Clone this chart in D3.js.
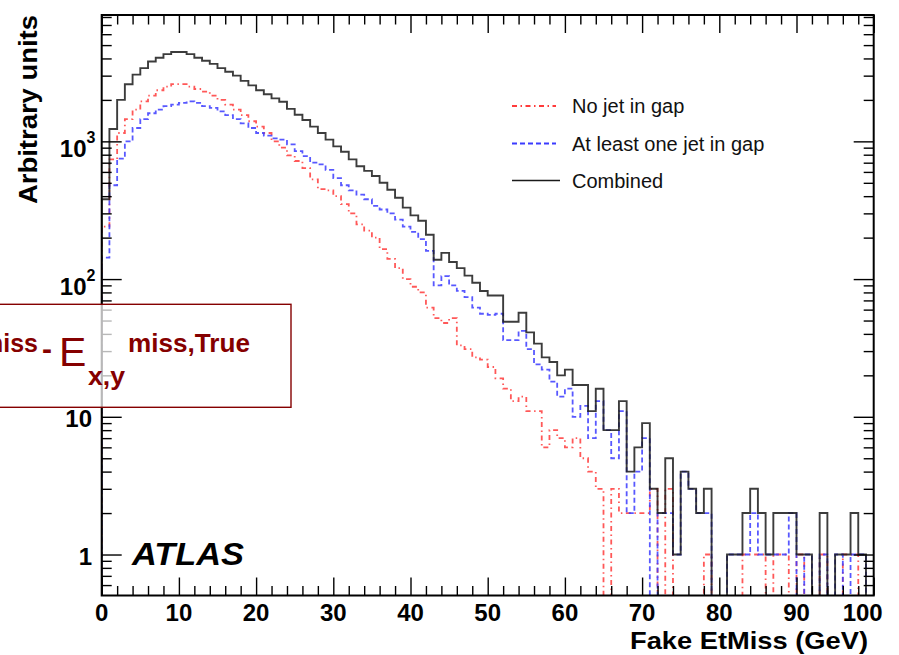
<!DOCTYPE html>
<html>
<head>
<meta charset="utf-8">
<script src="https://cdn.jsdelivr.net/npm/d3@7"></script>
<style>
  body { margin: 0; background: #fff; }
  svg { display: block; font-family: "Liberation Sans", Arial, Helvetica, sans-serif; }
</style>
</head>
<body>
<svg id="chart" width="899" height="655"></svg>
<script>
// Fake missing transverse energy, 1 GeV bins from 0 to 100 GeV
const binLow = 0;
const binHigh = 100;

const noJetInGap = [
  240, 740, 1150, 1450, 1700, 1950, 2150, 2350, 2500, 2600,
  2600, 2500, 2400, 2300, 2150, 2000, 1850, 1700, 1550, 1400,
  1280, 1150, 1000, 900, 790, 720, 640, 530, 450, 440,
  400, 350, 300, 250, 225, 200, 165, 140, 120, 100,
  88, 80, 62, 52, 48, 52, 33, 31, 27, 26,
  23, 19, 16, 13, 14, 11, 11, 6, 8, 7,
  6, 7, 5, 4, 3, 0, 3, 2, 2, 2,
  2, 3, 0, 3, 0, 0, 0, 0, 1, 0,
  0, 0, 0, 1, 1, 1, 0, 1, 1, 0,
  1, 0, 0, 1, 0, 0, 1, 1, 0, 0
];

const atLeastOneJetInGap = [
  143, 480, 750, 1000, 1250, 1450, 1600, 1700, 1800, 1850,
  1900, 1950, 1900, 1800, 1750, 1650, 1550, 1450, 1350, 1250,
  1150, 1100, 1050, 1030, 950, 850, 780, 700, 680, 620,
  540, 480, 440, 410, 380, 340, 320, 300, 270, 240,
  220, 195, 160, 90, 105, 90, 82, 74, 62, 56,
  55, 56, 36, 36, 42, 31, 24, 22, 18, 14,
  16, 10, 12, 7, 13, 8, 5, 11, 2, 4,
  7, 0, 2, 2, 1, 4, 3, 2, 2, 0,
  0, 1, 1, 1, 2, 1, 1, 1, 1, 2,
  0, 1, 0, 1, 0, 1, 0, 1, 1, 0
];

const combined = [
  380, 1230, 2000, 2600, 3050, 3400, 3800, 4050, 4300, 4450,
  4450, 4300, 4050, 3850, 3650, 3400, 3200, 3000, 2750, 2550,
  2350, 2200, 2050, 1940, 1720, 1560, 1430, 1280, 1150, 1030,
  920, 840, 740, 660, 610, 560, 500, 445, 390, 330,
  290, 265, 210, 138, 155, 133, 120, 106, 94, 82,
  76, 76, 49, 49, 57, 41, 34, 27, 25, 20,
  22, 17, 17, 11, 16, 8, 8, 13, 4, 6,
  9, 3, 2, 5, 1, 4, 3, 2, 3, 0,
  0, 1, 1, 2, 3, 2, 1, 2, 2, 2,
  1, 1, 0, 2, 0, 1, 1, 2, 1, 0
];

const seriesNames = ["No jet in gap", "At least one jet in gap", "Combined"];
const seriesColors = ["#ff3b3b", "#3b3bff", "#1a1a1a"];
const seriesDash = ["5,3.5,1.5,3.5", "5,3", null];

const xTickValues = [0, 10, 20, 30, 40, 50, 60, 70, 80, 90, 100];
const yMajorValues = [1, 10, 100, 1000];
const yTickLabels = [["1", ""], ["10", ""], ["10", "2"], ["10", "3"]];

const xTitle = "Fake EtMiss (GeV)";
const yTitle = "Arbitrary units";

// ---------------------------------------------------------------
const svg = d3.select("#chart");
const plot = { left: 101.7, right: 873.7, top: 15, bottom: 595.5 };

const x = d3.scaleLinear().domain([binLow, binHigh]).range([plot.left, plot.right]);
const y = d3.scaleLog().domain([0.504, 8270]).range([plot.bottom, plot.top]);
const yv = v => (v > 0 ? y(v) : plot.bottom + 2);

svg.append("rect").attr("width", 899).attr("height", 655).attr("fill", "#fff");

svg.append("defs").append("clipPath").attr("id", "plotClip")
  .append("rect")
  .attr("x", plot.left).attr("y", plot.top)
  .attr("width", plot.right - plot.left).attr("height", plot.bottom - plot.top);

// histogram outlines
const stepLine = d3.line()
  .x(d => x(d[0]))
  .y(d => d[1] === null ? plot.bottom + 2 : yv(d[1]))
  .curve(d3.curveStepAfter);

function outline(values) {
  const pts = [[binLow, null]];
  values.forEach((v, i) => pts.push([binLow + i, v]));
  pts.push([binHigh, values[values.length - 1]]);
  pts.push([binHigh, null]);
  return pts;
}

const hists = svg.append("g").attr("clip-path", "url(#plotClip)");
[noJetInGap, atLeastOneJetInGap, combined].forEach((vals, k) => {
  hists.append("path")
    .attr("d", stepLine(outline(vals)))
    .attr("fill", "none")
    .attr("stroke", seriesColors[k])
    .attr("stroke-width", k === 2 ? 1.9 : 1.8)
    .attr("stroke-dasharray", seriesDash[k])
    .attr("stroke-opacity", k === 2 ? 0.85 : 0.85);
});

// axes (ROOT style: ticks drawn inside the frame on all four sides)
const minorX = d3.range(0, 101, 2).filter(v => v % 10 !== 0);
const minorY = [];
[0.1, 1, 10, 100, 1000].forEach(d => {
  for (let m = 2; m <= 9; m++) {
    const v = m * d;
    if (v >= 0.504 && v <= 8270) minorY.push(v);
  }
});

const axisStyle = g => {
  g.selectAll(".domain").remove();
  g.selectAll("line").attr("stroke", "#000").attr("stroke-width", 1.4);
  g.selectAll("text").remove();
};

svg.append("g").attr("transform", `translate(0,${plot.bottom})`)
  .call(d3.axisBottom(x).tickValues(xTickValues).tickSize(-18)).call(axisStyle);
svg.append("g").attr("transform", `translate(0,${plot.bottom})`)
  .call(d3.axisBottom(x).tickValues(minorX).tickSize(-9.5)).call(axisStyle);
svg.append("g").attr("transform", `translate(0,${plot.top})`)
  .call(d3.axisTop(x).tickValues(xTickValues).tickSize(-18)).call(axisStyle);
svg.append("g").attr("transform", `translate(0,${plot.top})`)
  .call(d3.axisTop(x).tickValues(minorX).tickSize(-9.5)).call(axisStyle);

svg.append("g").attr("transform", `translate(${plot.left},0)`)
  .call(d3.axisLeft(y).tickValues(yMajorValues).tickSize(-20)).call(axisStyle);
svg.append("g").attr("transform", `translate(${plot.left},0)`)
  .call(d3.axisLeft(y).tickValues(minorY).tickSize(-10)).call(axisStyle);
svg.append("g").attr("transform", `translate(${plot.right},0)`)
  .call(d3.axisRight(y).tickValues(yMajorValues).tickSize(-20)).call(axisStyle);
svg.append("g").attr("transform", `translate(${plot.right},0)`)
  .call(d3.axisRight(y).tickValues(minorY).tickSize(-10)).call(axisStyle);

// frame
svg.append("rect")
  .attr("x", plot.left).attr("y", plot.top)
  .attr("width", plot.right - plot.left).attr("height", plot.bottom - plot.top)
  .attr("fill", "none").attr("stroke", "#000").attr("stroke-width", 2);

// x tick labels
svg.append("g").selectAll("text")
  .data(xTickValues)
  .join("text")
  .attr("x", d => d === 100 ? x(d) - 11 : x(d))
  .attr("y", 621)
  .attr("text-anchor", "middle")
  .attr("font-size", 24)
  .attr("font-weight", "bold")
  .attr("fill", "#000")
  .text(d => d);

// y tick labels (powers of ten)
const yLab = svg.append("g");
yMajorValues.forEach((v, i) => {
  const [base, exp] = yTickLabels[i];
  const ty = y(v);
  if (!exp) {
    yLab.append("text")
      .attr("x", 92).attr("y", ty + 10)
      .attr("text-anchor", "end")
      .attr("font-size", 24).attr("font-weight", "bold")
      .text(base);
  } else {
    yLab.append("text")
      .attr("x", 86.5).attr("y", ty + 16)
      .attr("text-anchor", "end")
      .attr("font-size", 24).attr("font-weight", "bold")
      .text(base);
    yLab.append("text")
      .attr("x", 86.5).attr("y", ty + 2)
      .attr("text-anchor", "start")
      .attr("font-size", 16).attr("font-weight", "bold")
      .text(exp);
  }
});

// axis titles
svg.append("text")
  .attr("x", 868).attr("y", 649)
  .attr("text-anchor", "end")
  .attr("font-size", 24).attr("font-weight", "bold")
  .attr("textLength", 238).attr("lengthAdjust", "spacingAndGlyphs")
  .text(xTitle);

svg.append("text")
  .attr("transform", "translate(37,15) rotate(-90)")
  .attr("text-anchor", "end")
  .attr("font-size", 25).attr("font-weight", "bold")
  .attr("textLength", 189).attr("lengthAdjust", "spacingAndGlyphs")
  .text(yTitle);

// legend
const legend = svg.append("g");
const legendRows = [106, 143.5, 180.5];
seriesNames.forEach((name, k) => {
  legend.append("line")
    .attr("x1", 512).attr("x2", k === 2 ? 560 : 556)
    .attr("y1", legendRows[k]).attr("y2", legendRows[k])
    .attr("stroke", seriesColors[k])
    .attr("stroke-width", k === 2 ? 1.6 : 1.8)
    .attr("stroke-dasharray", seriesDash[k]);
  legend.append("text")
    .attr("x", 572).attr("y", legendRows[k] + 7)
    .attr("font-size", 20)
    .attr("fill", "#111")
    .text(name);
});

// experiment label
svg.append("text")
  .attr("x", 132).attr("y", 565)
  .attr("font-size", 31).attr("font-weight", "bold").attr("font-style", "italic")
  .attr("textLength", 112).attr("lengthAdjust", "spacingAndGlyphs")
  .text("ATLAS");

// formula box overlapping the left edge
const boxColor = "#850000";
const box = svg.append("g");
box.append("rect")
  .attr("x", -10).attr("y", 304.3).attr("width", 301).attr("height", 103)
  .attr("fill", "#fff").attr("fill-opacity", 0.72)
  .attr("stroke", boxColor).attr("stroke-width", 1.4);
box.append("text")
  .attr("x", 38).attr("y", 352).attr("text-anchor", "end")
  .attr("font-size", 25).attr("font-weight", "bold").attr("fill", boxColor)
  .text("miss");
box.append("text")
  .attr("x", 42).attr("y", 358.5)
  .attr("font-size", 30).attr("font-weight", "bold").attr("fill", boxColor)
  .text("-");
box.append("text")
  .attr("x", 59).attr("y", 366)
  .attr("font-size", 41).attr("fill", boxColor)
  .text("E");
box.append("text")
  .attr("x", 88).attr("y", 385)
  .attr("font-size", 26).attr("font-weight", "bold").attr("fill", boxColor)
  .attr("textLength", 37).attr("lengthAdjust", "spacingAndGlyphs")
  .text("x,y");
box.append("text")
  .attr("x", 128).attr("y", 352)
  .attr("font-size", 25).attr("font-weight", "bold").attr("fill", boxColor)
  .attr("textLength", 122).attr("lengthAdjust", "spacingAndGlyphs")
  .text("miss,True");
</script>
</body>
</html>
